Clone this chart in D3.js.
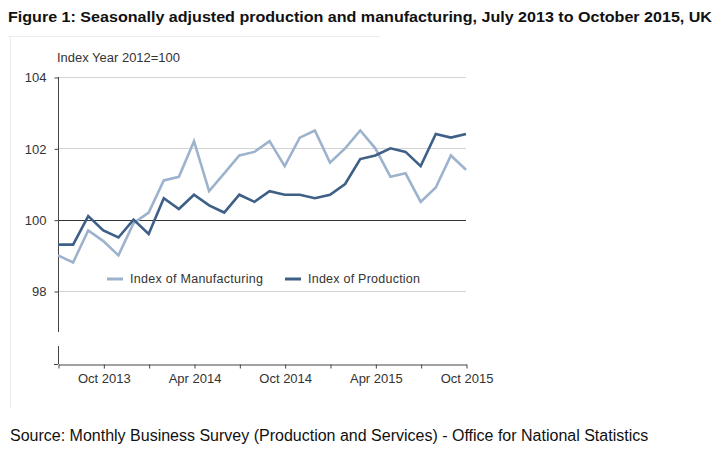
<!DOCTYPE html>
<html><head><meta charset="utf-8">
<script src="https://cdn.jsdelivr.net/npm/d3@7"></script>
<style>body{margin:0;background:#fff}svg{display:block}</style>
</head><body>
<svg id="c" width="722" height="453"></svg>
<script>
const months = ["Jul 2013","Aug 2013","Sep 2013","Oct 2013","Nov 2013","Dec 2013","Jan 2014","Feb 2014","Mar 2014","Apr 2014","May 2014","Jun 2014","Jul 2014","Aug 2014","Sep 2014","Oct 2014","Nov 2014","Dec 2014","Jan 2015","Feb 2015","Mar 2015","Apr 2015","May 2015","Jun 2015","Jul 2015","Aug 2015","Sep 2015","Oct 2015"];
const manufacturing = [99.0,98.8,99.7,99.4,99.0,99.9,100.2,101.1,101.2,102.2,100.8,101.3,101.8,101.9,102.2,101.5,102.3,102.5,101.6,102.0,102.5,102.0,101.2,101.3,100.5,100.9,101.8,101.4];
const production = [99.3,99.3,100.1,99.7,99.5,100.0,99.6,100.6,100.3,100.7,100.4,100.2,100.7,100.5,100.8,100.7,100.7,100.6,100.7,101.0,101.7,101.8,102.0,101.9,101.5,102.4,102.3,102.4];
const yTicks = [98,100,102,104];
const xTickLabels = ["Oct 2013","Apr 2014","Oct 2014","Apr 2015","Oct 2015"];

const svg = d3.select("#c");
const font = "'Liberation Sans', Arial, sans-serif";
const L = 58, R = 466;
const x = d3.scalePoint().domain(months).range([L, R]);
const y = d3.scaleLinear().domain([98, 104]).range([291, 77]);
const axisY = 364;

// frame
svg.append("line").attr("x1",8).attr("x2",380).attr("y1",36.5).attr("y2",36.5).attr("stroke","#ececec");
svg.append("line").attr("x1",10.5).attr("x2",10.5).attr("y1",36).attr("y2",408).attr("stroke","#ececec");

// title
svg.append("text").attr("x",8).attr("y",22).attr("font-family",font).attr("font-weight","bold")
  .attr("font-size",15).attr("fill","#111").attr("textLength",704).attr("lengthAdjust","spacingAndGlyphs")
  .text("Figure 1: Seasonally adjusted production and manufacturing, July 2013 to October 2015, UK");

// y label
svg.append("text").attr("x",57).attr("y",62).attr("font-family",font).attr("font-size",12)
  .attr("fill","#333").attr("textLength",123).attr("lengthAdjust","spacingAndGlyphs").text("Index Year 2012=100");

// gridlines
yTicks.forEach(t => {
  svg.append("line").attr("x1",L).attr("x2",R).attr("y1",Math.round(y(t))+0.5).attr("y2",Math.round(y(t))+0.5)
    .attr("stroke", t===100 ? "#333" : "#d4d4d4").attr("stroke-width", t===100 ? 1.2 : 1);
});

// y axis
const yAxis = d3.axisLeft(y).tickValues(yTicks).tickSize(4).tickPadding(8).tickFormat(d3.format("d"));
const gy = svg.append("g").attr("transform",`translate(${L+0.5},0.5)`).call(yAxis);
gy.select(".domain").remove();
gy.selectAll("text").attr("font-family",font).attr("font-size",13).attr("fill","#333");
gy.selectAll("line").attr("stroke","#444");
svg.append("line").attr("x1",L+0.5).attr("x2",L+0.5).attr("y1",y(104)).attr("y2",332).attr("stroke","#444");
svg.append("line").attr("x1",L+0.5).attr("x2",L+0.5).attr("y1",346).attr("y2",axisY).attr("stroke","#444");

// x axis
const tickMonths = months.filter((m,i)=> i%3===0);
const xAxis = d3.axisBottom(x).tickValues(tickMonths).tickSize(4).tickSizeOuter(0)
  .tickFormat(d => xTickLabels.includes(d) ? d : "");
const gx = svg.append("g").attr("transform",`translate(0.5,${axisY+0.5})`).call(xAxis);
gx.select(".domain").attr("stroke","#444");
gx.selectAll("line").attr("stroke","#444");
gx.selectAll("text").attr("font-family",font).attr("font-size",13).attr("fill","#333").attr("dy","0.85em");
svg.append("line").attr("x1",L-4).attr("x2",L).attr("y1",axisY+0.5).attr("y2",axisY+0.5).attr("stroke","#444");

// lines
const line = d3.line().x((d,i)=>x(months[i])).y(d=>y(d));
svg.append("path").datum(manufacturing).attr("d",line).attr("fill","none")
  .attr("stroke","#9db3cd").attr("stroke-width",2.6).attr("stroke-linejoin","miter");
svg.append("path").datum(production).attr("d",line).attr("fill","none")
  .attr("stroke","#3e5f86").attr("stroke-width",2.6).attr("stroke-linejoin","miter");

// legend
const legend = [{name:"Index of Manufacturing", color:"#9db3cd", x:107, w:133},{name:"Index of Production", color:"#3e5f86", x:285, w:112}];
legend.forEach(l => {
  svg.append("line").attr("x1",l.x).attr("x2",l.x+16).attr("y1",279).attr("y2",279).attr("stroke",l.color).attr("stroke-width",3);
  svg.append("text").attr("x",l.x+23).attr("y",283).attr("font-family",font).attr("font-size",12.5).attr("fill","#333")
    .attr("textLength",l.w).attr("lengthAdjust","spacing").text(l.name);
});

// source
svg.append("text").attr("x",10).attr("y",441).attr("font-family",font).attr("font-size",16).attr("fill","#111")
  .text("Source: Monthly Business Survey (Production and Services) - Office for National Statistics");
</script>
</body></html>
